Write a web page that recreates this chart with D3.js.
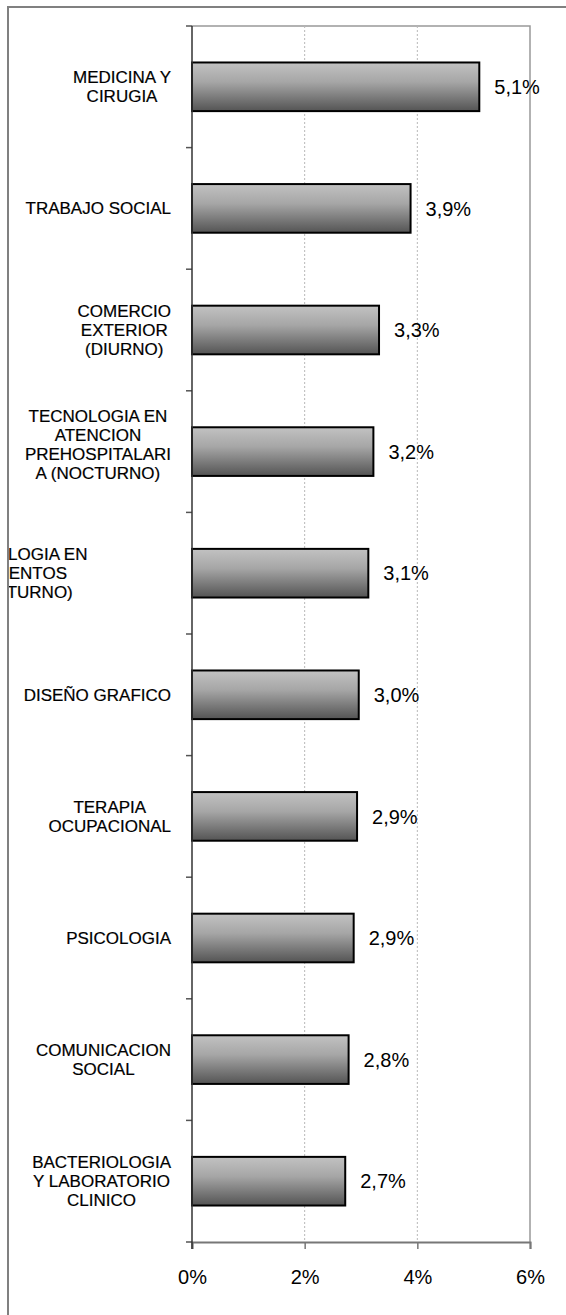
<!DOCTYPE html>
<html>
<head>
<meta charset="utf-8">
<script src="https://cdn.jsdelivr.net/npm/d3@7"></script>
<style>
  body { margin: 0; background: #fff; overflow: hidden; }
  svg { display: block; font-family: "Liberation Sans", Arial, sans-serif; }
</style>
</head>
<body>
<div id="chart"></div>
<script>
const categories = [
  ["MEDICINA Y", "CIRUGIA"],
  ["TRABAJO SOCIAL"],
  ["COMERCIO", "EXTERIOR", "(DIURNO)"],
  ["TECNOLOGIA EN", "ATENCION", "PREHOSPITALARI", "A (NOCTURNO)"],
  ["TECNOLOGIA EN", "ALIMENTOS", "(NOCTURNO)"],
  ["DISEÑO GRAFICO"],
  ["TERAPIA", "OCUPACIONAL"],
  ["PSICOLOGIA"],
  ["COMUNICACION", "SOCIAL"],
  ["BACTERIOLOGIA", "Y LABORATORIO", "CLINICO"]
];
const values = [5.1, 3.88, 3.32, 3.22, 3.13, 2.96, 2.93, 2.87, 2.78, 2.72];
const xTicks = [0, 2, 4, 6];

const W = 566, H = 1315;
const plot = { left: 192, right: 530, top: 26, bottom: 1242 };

const svg = d3.select("#chart").append("svg")
  .attr("width", W)
  .attr("height", H);

svg.append("rect").attr("width", W).attr("height", H).attr("fill", "#fff");

const defs = svg.append("defs");
const grad = defs.append("linearGradient")
  .attr("id", "barGrad")
  .attr("x1", 0).attr("y1", 0).attr("x2", 0).attr("y2", 1);
grad.append("stop").attr("offset", "0%").attr("stop-color", "#c2c2c2");
grad.append("stop").attr("offset", "40%").attr("stop-color", "#a6a6a6");
grad.append("stop").attr("offset", "100%").attr("stop-color", "#545454");

const x = d3.scaleLinear().domain([0, 6]).range([plot.left, plot.right]);
const y = d3.scaleBand()
  .domain(d3.range(categories.length))
  .range([plot.top, plot.bottom])
  .paddingInner(0.6)
  .paddingOuter(0.3);

// plot border (top / right)
svg.append("path")
  .attr("d", `M${plot.left},${plot.top}H${plot.right}V${plot.bottom}`)
  .attr("fill", "none")
  .attr("stroke", "#999")
  .attr("stroke-width", 1.5);

// dotted gridlines
svg.append("g")
  .selectAll("line")
  .data(xTicks.filter(d => d > 0 && d < 6))
  .enter().append("line")
  .attr("x1", d => x(d)).attr("x2", d => x(d))
  .attr("y1", plot.top).attr("y2", plot.bottom)
  .attr("stroke", "#b8b8b8")
  .attr("stroke-dasharray", "2,2");

// bars
svg.append("g")
  .selectAll("rect")
  .data(values)
  .enter().append("rect")
  .attr("x", x(0))
  .attr("y", (d, i) => y(i))
  .attr("width", d => x(d) - x(0))
  .attr("height", y.bandwidth())
  .attr("fill", "url(#barGrad)")
  .attr("stroke", "#000")
  .attr("stroke-width", 2);

// value labels
const fmt = d => d.toFixed(1).replace(".", ",") + "%";
svg.append("g")
  .selectAll("text")
  .data(values)
  .enter().append("text")
  .attr("x", d => x(d) + 15)
  .attr("y", (d, i) => y(i) + y.bandwidth() / 2)
  .attr("dy", "0.36em")
  .attr("font-size", 20)
  .attr("fill", "#000")
  .text(fmt);

// bottom axis
const gx = svg.append("g")
  .attr("transform", `translate(0,${plot.bottom})`)
  .call(d3.axisBottom(x).tickValues(xTicks).tickSize(7).tickPadding(21)
    .tickFormat(d => d + "%"));
gx.select(".domain").attr("stroke", "#777").attr("stroke-width", 2);
gx.selectAll(".tick line").attr("stroke", "#777").attr("stroke-width", 1.5);
gx.selectAll(".tick text")
  .attr("font-size", 20)
  .attr("font-family", "Liberation Sans, Arial, sans-serif")
  .attr("fill", "#000");

// left axis with ticks at category boundaries
const boundaries = d3.range(categories.length + 1).map(i => plot.top + i * (plot.bottom - plot.top) / categories.length);
const gy = svg.append("g");
gy.selectAll("line")
  .data(boundaries)
  .enter().append("line")
  .attr("x1", plot.left - 6).attr("x2", plot.left)
  .attr("y1", d => d).attr("y2", d => d)
  .attr("stroke", "#555")
  .attr("stroke-width", 1.5);
gy.append("line")
  .attr("x1", plot.left).attr("x2", plot.left)
  .attr("y1", plot.top).attr("y2", plot.bottom + 7)
  .attr("stroke", "#333")
  .attr("stroke-width", 1.5);

// category labels: block right-aligned to the axis, lines centred in block
const lh = 19;
const labels = svg.append("g");
categories.forEach((lines, i) => {
  // the tall 4-line label sits a little above the bar centre in the original
  const cy = y(i) + y.bandwidth() / 2 - (lines.length > 3 ? 7 : 0);
  const texts = labels.append("g").selectAll("text")
    .data(lines)
    .enter().append("text")
    .attr("font-size", 17)
    .attr("text-anchor", "middle")
    .attr("fill", "#000")
    .attr("stroke", "#000")
    .attr("stroke-width", 0.2)
    .attr("y", (d, j) => cy + (j - (lines.length - 1) / 2) * lh + 6)
    .text(d => d);
  const maxW = d3.max(texts.nodes(), n => n.getComputedTextLength());
  // the 5th label overflows in the original and runs off the chart's left edge
  const centre = i === 4 ? 18 : plot.left - 21 - maxW / 2;
  texts.attr("x", centre);
});

// mask anything left of the chart frame, then draw the frame
svg.append("rect").attr("x", 0).attr("y", 0).attr("width", 7).attr("height", H).attr("fill", "#fff");
svg.append("path")
  .attr("d", `M8,${H}V7H${W}`)
  .attr("fill", "none")
  .attr("stroke", "#808080")
  .attr("stroke-width", 2);
</script>
</body>
</html>
